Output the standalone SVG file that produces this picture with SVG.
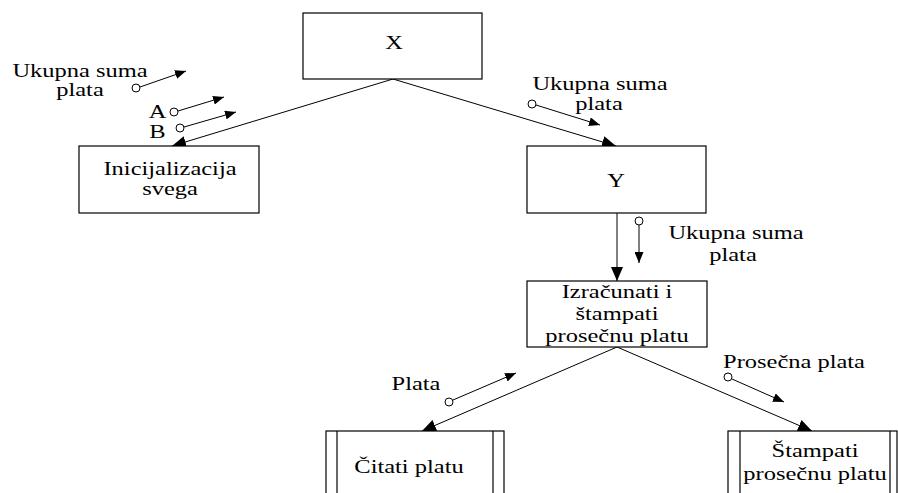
<svg xmlns="http://www.w3.org/2000/svg" width="898" height="493" viewBox="0 0 898 493">
  <defs>
    <style>
      .box { fill: #fff; stroke: #000; stroke-width: 1.2; }
      .edge { fill: none; stroke: #000; stroke-width: 1; }
      .flow { fill: none; stroke: #000; stroke-width: 1; }
      .dot { fill: #fff; stroke: #000; stroke-width: 1; }
      text { font-family: "Liberation Serif", "Times New Roman", serif; font-size: 18px; fill: #000; text-anchor: middle; }
    </style>
    <marker id="bigHead" markerUnits="userSpaceOnUse" markerWidth="16" markerHeight="12" refX="14" refY="6" orient="auto">
      <path d="M0,0 L14,6 L0,12 Z" fill="#000"/>
    </marker>
    <marker id="smallHead" markerUnits="userSpaceOnUse" markerWidth="12" markerHeight="9" refX="11" refY="4.5" orient="auto">
      <path d="M0,0 L11,4.5 L0,9 Z" fill="#000"/>
    </marker>
  </defs>
  <rect width="898" height="493" fill="#fff"/>

  <!-- structure chart connectors -->
  <g id="connectors">
    <line class="edge" x1="393" y1="79" x2="172" y2="146" marker-end="url(#bigHead)"/>
    <line class="edge" x1="393" y1="79" x2="616" y2="146" marker-end="url(#bigHead)"/>
    <line class="edge" x1="617" y1="213" x2="617" y2="281" marker-end="url(#bigHead)"/>
    <line class="edge" x1="617" y1="347" x2="422" y2="431" marker-end="url(#bigHead)"/>
    <line class="edge" x1="617" y1="347" x2="812" y2="431" marker-end="url(#bigHead)"/>
  </g>

  <!-- data couples -->
  <g id="couples">
    <g id="couple-left-sum">
      <line class="flow" x1="140" y1="87" x2="186" y2="71" marker-end="url(#smallHead)"/>
      <circle class="dot" cx="136" cy="88" r="4"/>
      <text transform="translate(80,77) scale(1.36,1)">Ukupna suma</text>
      <text transform="translate(80,96) scale(1.36,1)">plata</text>
    </g>
    <g id="couple-a">
      <line class="flow" x1="178" y1="111" x2="224" y2="97" marker-end="url(#smallHead)"/>
      <circle class="dot" cx="174" cy="112" r="4"/>
      <text transform="translate(157.5,118) scale(1.36,1)">A</text>
    </g>
    <g id="couple-b">
      <line class="flow" x1="184" y1="127" x2="236" y2="112" marker-end="url(#smallHead)"/>
      <circle class="dot" cx="180" cy="128" r="4"/>
      <text transform="translate(157.5,138) scale(1.36,1)">B</text>
    </g>
    <g id="couple-right-sum">
      <line class="flow" x1="536" y1="105" x2="600" y2="125" marker-end="url(#smallHead)"/>
      <circle class="dot" cx="532" cy="104" r="4"/>
      <text transform="translate(600,90) scale(1.36,1)">Ukupna suma</text>
      <text transform="translate(599,110) scale(1.36,1)">plata</text>
    </g>
    <g id="couple-mid-sum">
      <line class="flow" x1="639" y1="225" x2="639" y2="263" marker-end="url(#smallHead)"/>
      <circle class="dot" cx="639" cy="221" r="4"/>
      <text transform="translate(736,239) scale(1.36,1)">Ukupna suma</text>
      <text transform="translate(733,261) scale(1.36,1)">plata</text>
    </g>
    <g id="couple-plata">
      <line class="flow" x1="453" y1="400" x2="516" y2="373" marker-end="url(#smallHead)"/>
      <circle class="dot" cx="449" cy="402" r="4"/>
      <text transform="translate(416,390) scale(1.36,1)">Plata</text>
    </g>
    <g id="couple-avg">
      <line class="flow" x1="732" y1="379" x2="784" y2="402" marker-end="url(#smallHead)"/>
      <circle class="dot" cx="728" cy="377" r="4"/>
      <text transform="translate(794,368) scale(1.36,1)">Prosečna plata</text>
    </g>
  </g>

  <!-- modules -->
  <g id="node-x">
    <rect class="box" x="303" y="13" width="179" height="66"/>
    <text transform="translate(394,49) scale(1.36,1)">X</text>
  </g>
  <g id="node-init">
    <rect class="box" x="79" y="146" width="180" height="67"/>
    <text transform="translate(170,175) scale(1.36,1)">Inicijalizacija</text>
    <text transform="translate(170,195) scale(1.36,1)">svega</text>
  </g>
  <g id="node-y">
    <rect class="box" x="527" y="146" width="179" height="67"/>
    <text transform="translate(616,187) scale(1.36,1)">Y</text>
  </g>
  <g id="node-calc">
    <rect class="box" x="527" y="281" width="180" height="66"/>
    <text transform="translate(617,298) scale(1.36,1)">Izračunati i</text>
    <text transform="translate(617,320) scale(1.36,1)">štampati</text>
    <text transform="translate(617,342) scale(1.36,1)">prosečnu platu</text>
  </g>
  <g id="node-read">
    <rect class="box" x="326" y="431" width="178" height="70"/>
    <line class="box" x1="337" y1="431" x2="337" y2="501"/>
    <line class="box" x1="493" y1="431" x2="493" y2="501"/>
    <text transform="translate(409,473) scale(1.36,1)">Čitati platu</text>
  </g>
  <g id="node-print">
    <rect class="box" x="728" y="431" width="169" height="70"/>
    <line class="box" x1="740" y1="431" x2="740" y2="501"/>
    <line class="box" x1="890" y1="431" x2="890" y2="501"/>
    <text transform="translate(815,457) scale(1.36,1)">Štampati</text>
    <text transform="translate(815,480) scale(1.36,1)">prosečnu platu</text>
  </g>
</svg>
